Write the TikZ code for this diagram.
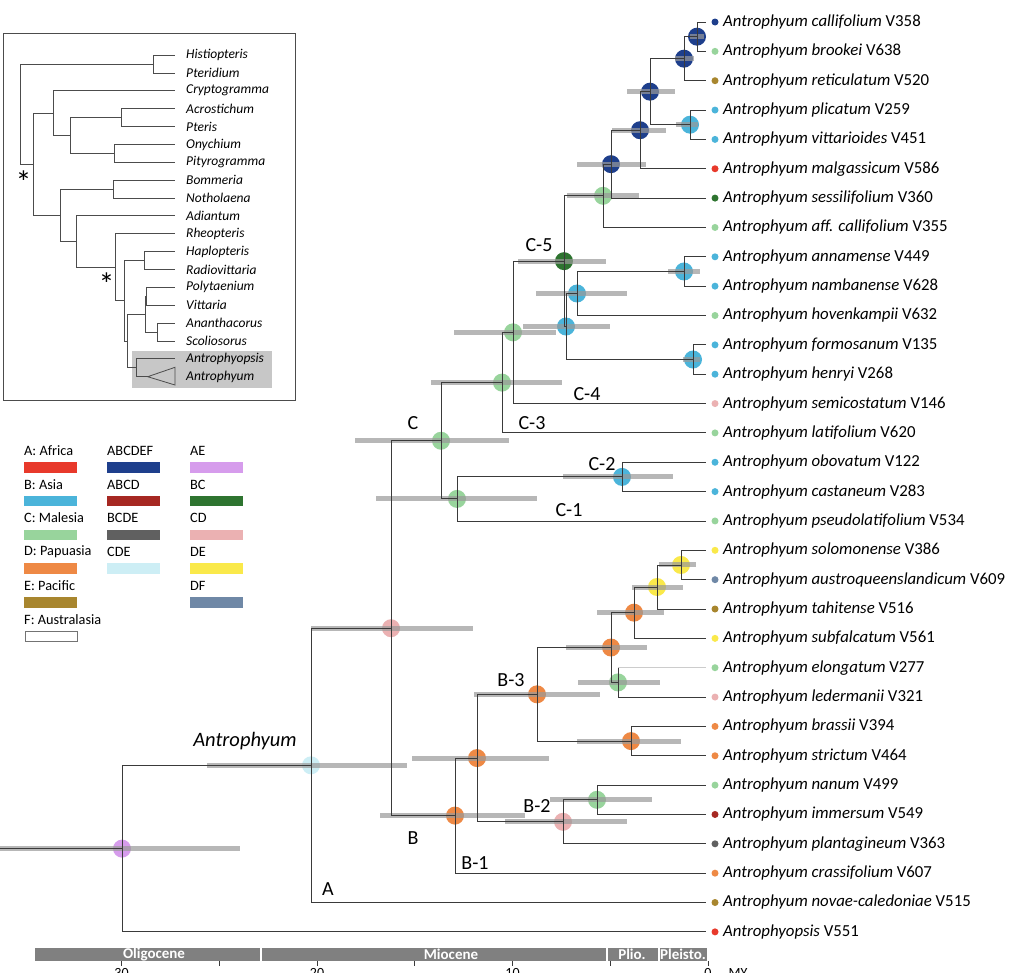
\documentclass[tikz,border=0pt]{standalone}
\usepackage{fontspec}
\setmainfont{Carlito}
\definecolor{cA}{HTML}{E8392B}
\definecolor{cB}{HTML}{4BB4DA}
\definecolor{cC}{HTML}{98D49C}
\definecolor{cD}{HTML}{EE8945}
\definecolor{cE}{HTML}{A8862E}
\definecolor{cABCDEF}{HTML}{1E3F8C}
\definecolor{cABCD}{HTML}{A62822}
\definecolor{cBCDE}{HTML}{606060}
\definecolor{cCDE}{HTML}{CDEEF5}
\definecolor{cAE}{HTML}{D69CEC}
\definecolor{cBC}{HTML}{2E7430}
\definecolor{cCD}{HTML}{EBB1B2}
\definecolor{cDE}{HTML}{FAE94A}
\definecolor{cDF}{HTML}{6F88A6}
\definecolor{branchc}{HTML}{3A3A3A}
\definecolor{hpdc}{HTML}{999999}
\definecolor{barc}{HTML}{808080}
\tikzset{
  branch/.style={draw=branchc, line width=0.9pt},
  lightbranch/.style={draw=black!20, line width=0.9pt},
  hpd/.style={draw=hpdc, line width=5pt, opacity=0.7},
  anc/.style={circle, minimum size=18pt, inner sep=0pt, draw=none},
  tipdot/.style={circle, minimum size=7pt, inner sep=0pt, draw=none},
  tiplab/.style={anchor=west, font=\fontsize{16.8}{18}\selectfont, inner sep=0pt},
  clab/.style={font=\fontsize{20}{22}\selectfont, inner sep=0pt},
  leglab/.style={anchor=west, font=\fontsize{14.3}{16}\selectfont, inner sep=0pt},
  swatch/.style={minimum width=53pt, minimum height=10.5pt, inner sep=0pt, anchor=north west, draw=none},
  ibranch/.style={draw=black!70, line width=0.8pt},
  ilab/.style={anchor=west, font=\fontsize{13.5}{15}\selectfont\itshape, inner sep=0pt},
  eralab/.style={font=\fontsize{15}{16}\selectfont\bfseries, text=white, inner sep=0pt},
  ticklab/.style={anchor=north, font=\fontsize{14}{16}\selectfont, inner sep=0pt},
  astlab/.style={font=\fontsize{32}{34}\selectfont, inner sep=0pt}
}
\newcommand\tiptaxon[5]{%
  \coordinate (#1) at (706,#2);
  \node[tipdot,fill=#3] (#1d) at (715,#2) {};
  \node[tiplab] (#1l) at (723,#2) {\textit{#4} #5};}
\newcommand\edge[2]{\draw[branch] (#1) |- (#2);}
\newcommand\ancnode[2]{\node[anc,fill=#2] (#1c) at (#1) {};}
\newcommand\itip[3]{%
  \coordinate (#1) at (175,#2);
  \node[ilab] (#1l) at (186,#2) {#3};}
\newcommand\iedge[2]{\draw[ibranch] (#1) |- (#2);}
\begin{document}
\begin{tikzpicture}[x=1pt,y=-1pt]
\useasboundingbox (0,0) rectangle (1032,972);
\fill[white] (0,0) rectangle (1032,972);

% ---------- tips ----------
\tiptaxon{t0}{22}{cABCDEF}{Antrophyum callifolium}{V358}
\tiptaxon{t1}{51.35}{cC}{Antrophyum brookei}{V638}
\tiptaxon{t2}{80.7}{cE}{Antrophyum reticulatum}{V520}
\tiptaxon{t3}{110.05}{cB}{Antrophyum plicatum}{V259}
\tiptaxon{t4}{139.4}{cB}{Antrophyum vittarioides}{V451}
\tiptaxon{t5}{168.75}{cA}{Antrophyum malgassicum}{V586}
\tiptaxon{t6}{198.1}{cBC}{Antrophyum sessilifolium}{V360}
\tiptaxon{t7}{227.45}{cC}{Antrophyum aff. callifolium}{V355}
\tiptaxon{t8}{256.8}{cB}{Antrophyum annamense}{V449}
\tiptaxon{t9}{286.15}{cB}{Antrophyum nambanense}{V628}
\tiptaxon{t10}{315.5}{cC}{Antrophyum hovenkampii}{V632}
\tiptaxon{t11}{344.85}{cB}{Antrophyum formosanum}{V135}
\tiptaxon{t12}{374.2}{cB}{Antrophyum henryi}{V268}
\tiptaxon{t13}{403.55}{cCD}{Antrophyum semicostatum}{V146}
\tiptaxon{t14}{432.9}{cC}{Antrophyum latifolium}{V620}
\tiptaxon{t15}{462.25}{cB}{Antrophyum obovatum}{V122}
\tiptaxon{t16}{491.6}{cB}{Antrophyum castaneum}{V283}
\tiptaxon{t17}{520.95}{cC}{Antrophyum pseudolatifolium}{V534}
\tiptaxon{t18}{550.3}{cDE}{Antrophyum solomonense}{V386}
\tiptaxon{t19}{579.65}{cDF}{Antrophyum austroqueenslandicum}{V609}
\tiptaxon{t20}{609}{cE}{Antrophyum tahitense}{V516}
\tiptaxon{t21}{638.35}{cDE}{Antrophyum subfalcatum}{V561}
\tiptaxon{t22}{667.7}{cC}{Antrophyum elongatum}{V277}
\tiptaxon{t23}{697.05}{cCD}{Antrophyum ledermanii}{V321}
\tiptaxon{t24}{726.4}{cD}{Antrophyum brassii}{V394}
\tiptaxon{t25}{755.75}{cD}{Antrophyum strictum}{V464}
\tiptaxon{t26}{785.1}{cC}{Antrophyum nanum}{V499}
\tiptaxon{t27}{814.45}{cABCD}{Antrophyum immersum}{V549}
\tiptaxon{t28}{843.8}{cBCDE}{Antrophyum plantagineum}{V363}
\tiptaxon{t29}{873.15}{cD}{Antrophyum crassifolium}{V607}
\tiptaxon{t30}{902.5}{cE}{Antrophyum novae-caledoniae}{V515}
\tiptaxon{t31}{931.85}{cA}{Antrophyopsis}{V551}

% ---------- internal nodes ----------
\coordinate (n01) at (697,36.68);
\coordinate (n012) at (684,58.69);
\coordinate (n34) at (690,124.7);
\coordinate (n04) at (650,91.69);
\coordinate (n05) at (640,130.22);
\coordinate (n06) at (611,164.16);
\coordinate (n07) at (603,195.8);
\coordinate (nAN) at (684,271.48);
\coordinate (nHV) at (577,293.49);
\coordinate (nFH) at (693,359.53);
\coordinate (nAS) at (566,326.5);
\coordinate (C5) at (564,261.15);
\coordinate (C4) at (513,332.35);
\coordinate (C3) at (502,382.6);
\coordinate (C2) at (622,476.9);
\coordinate (C1) at (457,498.9);
\coordinate (Cn) at (441,440.75);
\coordinate (nSA) at (681,564.98);
\coordinate (nSAT) at (657,586.99);
\coordinate (nSATS) at (634,612.67);
\coordinate (nEL) at (618,682.4);
\coordinate (nB3a) at (611,647.5);
\coordinate (nBS) at (631,741.1);
\coordinate (B3) at (537,694.3);
\coordinate (nNI) at (597,799.8);
\coordinate (B2) at (563,821.8);
\coordinate (nB23) at (477,758.05);
\coordinate (Bn) at (455,815.6);
\coordinate (BC) at (391,628.2);
\coordinate (crown) at (311,765.3);
\coordinate (root) at (122,848.6);
\coordinate (rootstem) at (0,848.6);

% ---------- ancestral state circles ----------
\ancnode{n01}{cABCDEF}
\ancnode{n012}{cABCDEF}
\ancnode{n34}{cB}
\ancnode{n04}{cABCDEF}
\ancnode{n05}{cABCDEF}
\ancnode{n06}{cABCDEF}
\ancnode{n07}{cC}
\ancnode{nAN}{cB}
\ancnode{nHV}{cB}
\ancnode{nFH}{cB}
\ancnode{nAS}{cB}
\ancnode{C5}{cBC}
\ancnode{C4}{cC}
\ancnode{C3}{cC}
\ancnode{C2}{cB}
\ancnode{C1}{cC}
\ancnode{Cn}{cC}
\ancnode{nSA}{cDE}
\ancnode{nSAT}{cDE}
\ancnode{nSATS}{cD}
\ancnode{nEL}{cC}
\ancnode{nB3a}{cD}
\ancnode{nBS}{cD}
\ancnode{B3}{cD}
\ancnode{nNI}{cC}
\ancnode{B2}{cCD}
\ancnode{nB23}{cD}
\ancnode{Bn}{cD}
\ancnode{BC}{cCD}
\ancnode{crown}{cCDE}
\ancnode{root}{cAE}

% ---------- HPD bars ----------
\draw[hpd] (0,848.6) -- (240,848.6);
\draw[hpd] (207,765.3) -- (407,765.3);
\draw[hpd] (311,628.2) -- (473,628.2);
\draw[hpd] (355,440.75) -- (509,440.75);
\draw[hpd] (376,498.9) -- (537,498.9);
\draw[hpd] (431,382.6) -- (562,382.6);
\draw[hpd] (454,332.35) -- (556,332.35);
\draw[hpd] (523,326.5) -- (610,326.5);
\draw[hpd] (536,293.49) -- (627,293.49);
\draw[hpd] (518,261.15) -- (606,261.15);
\draw[hpd] (567,195.8) -- (639,195.8);
\draw[hpd] (577,164.16) -- (646,164.16);
\draw[hpd] (612,130.22) -- (666,130.22);
\draw[hpd] (627,91.69) -- (675,91.69);
\draw[hpd] (675,58.69) -- (694,58.69);
\draw[hpd] (690,36.68) -- (704,36.68);
\draw[hpd] (676,124.7) -- (698,124.7);
\draw[hpd] (668,271.48) -- (700,271.48);
\draw[hpd] (683,359.53) -- (700,359.53);
\draw[hpd] (563,476.9) -- (673,476.9);
\draw[hpd] (380,815.6) -- (525,815.6);
\draw[hpd] (412,758.05) -- (549,758.05);
\draw[hpd] (474,694.3) -- (600,694.3);
\draw[hpd] (566,647.5) -- (647,647.5);
\draw[hpd] (597,612.67) -- (664,612.67);
\draw[hpd] (632,586.99) -- (683,586.99);
\draw[hpd] (659,564.98) -- (696,564.98);
\draw[hpd] (578,682.4) -- (660,682.4);
\draw[hpd] (577,741.1) -- (681,741.1);
\draw[hpd] (505,821.8) -- (627,821.8);
\draw[hpd] (550,799.8) -- (652,799.8);

% ---------- branches ----------
\draw[branch] (rootstem) -- (root);
\edge{n01}{t0}\edge{n01}{t1}
\edge{n012}{n01}\edge{n012}{t2}
\edge{n34}{t3}\edge{n34}{t4}
\edge{n04}{n012}\edge{n04}{n34}
\edge{n05}{n04}\edge{n05}{t5}
\edge{n06}{n05}\edge{n06}{t6}
\edge{n07}{n06}\edge{n07}{t7}
\edge{nAN}{t8}\edge{nAN}{t9}
\edge{nHV}{nAN}\edge{nHV}{t10}
\edge{nFH}{t11}\edge{nFH}{t12}
\edge{nAS}{nHV}\edge{nAS}{nFH}
\edge{C5}{n07}\edge{C5}{nAS}
\edge{C4}{C5}\edge{C4}{t13}
\edge{C3}{C4}\edge{C3}{t14}
\edge{C2}{t15}\edge{C2}{t16}
\edge{C1}{C2}\edge{C1}{t17}
\edge{Cn}{C3}\edge{Cn}{C1}
\edge{nSA}{t18}\edge{nSA}{t19}
\edge{nSAT}{nSA}\edge{nSAT}{t20}
\edge{nSATS}{nSAT}\edge{nSATS}{t21}
\draw[branch] (nEL) -- (nEL |- t22);
\draw[lightbranch] (nEL |- t22) -- (t22);
\edge{nEL}{t23}
\edge{nB3a}{nSATS}\edge{nB3a}{nEL}
\edge{nBS}{t24}\edge{nBS}{t25}
\edge{B3}{nB3a}\edge{B3}{nBS}
\edge{nNI}{t26}\edge{nNI}{t27}
\edge{B2}{nNI}\edge{B2}{t28}
\edge{nB23}{B3}\edge{nB23}{B2}
\edge{Bn}{nB23}\edge{Bn}{t29}
\edge{BC}{Cn}\edge{BC}{Bn}
\edge{crown}{BC}\edge{crown}{t30}
\edge{root}{crown}\edge{root}{t31}

% ---------- clade labels ----------
\node[clab,font=\fontsize{20.5}{22}\selectfont\itshape] (lAnt) at (245,741) {Antrophyum};
\node[clab] (lA) at (328,889) {A};
\node[clab] (lB) at (413,838) {B};
\node[clab] (lB1) at (475,863) {B-1};
\node[clab] (lB2) at (537,806) {B-2};
\node[clab] (lB3) at (511,680) {B-3};
\node[clab] (lC) at (413,423) {C};
\node[clab] (lC1) at (569,510) {C-1};
\node[clab] (lC2) at (602,464) {C-2};
\node[clab] (lC3) at (532,423) {C-3};
\node[clab] (lC4) at (587,394) {C-4};
\node[clab] (lC5) at (539,245) {C-5};

% ---------- time scale ----------
\fill[barc] (35,948) rectangle (707,961);
\foreach \sx in {261,607,659} \draw[white,line width=1.2pt] (\sx,948) -- (\sx,961);
\node[eralab] (eOl) at (154,954.5) {Oligocene};
\node[eralab] (eMi) at (451,954.5) {Miocene};
\node[eralab] (ePl) at (632,954.5) {Plio.};
\node[eralab] (ePs) at (683,954.5) {Pleisto.};
\foreach \t in {0,5,...,30} \draw[branchc,line width=0.8pt] ({708-19.55*\t},961) -- ({708-19.55*\t},966);
\node[ticklab] (k30) at (121.5,968) {30};
\node[ticklab] (k20) at (317,968) {20};
\node[ticklab] (k10) at (512.5,968) {10};
\node[ticklab] (k0) at (708,968) {0};
\node[ticklab] (kMY) at (738,968) {MY};

% ---------- legend ----------
\node[leglab] (gA) at (24,451) {A: Africa};
\node[swatch,fill=cA] (sA) at (24,462) {};
\node[leglab] (gB) at (24,484.5) {B: Asia};
\node[swatch,fill=cB] (sB) at (24,495.5) {};
\node[leglab] (gC) at (24,518) {C: Malesia};
\node[swatch,fill=cC] (sC) at (24,529.5) {};
\node[leglab] (gD) at (24,552) {D: Papuasia};
\node[swatch,fill=cD] (sD) at (24,563) {};
\node[leglab] (gE) at (24,585.5) {E: Pacific};
\node[swatch,fill=cE] (sE) at (24,597) {};
\node[leglab] (gF) at (24,619.5) {F: Australasia};
\node[swatch,fill=white,draw=black!55,line width=0.7pt,minimum width=52pt,minimum height=10pt] (sF) at (24.5,630.5) {};
\node[leglab] (gABCDEF) at (107,451) {ABCDEF};
\node[swatch,fill=cABCDEF] (sABCDEF) at (107,462) {};
\node[leglab] (gABCD) at (107,484.5) {ABCD};
\node[swatch,fill=cABCD] (sABCD) at (107,495.5) {};
\node[leglab] (gBCDE) at (107,518) {BCDE};
\node[swatch,fill=cBCDE] (sBCDE) at (107,529.5) {};
\node[leglab] (gCDE) at (107,552) {CDE};
\node[swatch,fill=cCDE] (sCDE) at (107,563) {};
\node[leglab] (gAE) at (190,451) {AE};
\node[swatch,fill=cAE] (sAE) at (190,462) {};
\node[leglab] (gBCl) at (190,484.5) {BC};
\node[swatch,fill=cBC] (sBC) at (190,495.5) {};
\node[leglab] (gCD) at (190,518) {CD};
\node[swatch,fill=cCD] (sCD) at (190,529.5) {};
\node[leglab] (gDE) at (190,552) {DE};
\node[swatch,fill=cDE] (sDE) at (190,563) {};
\node[leglab] (gDF) at (190,585.5) {DF};
\node[swatch,fill=cDF] (sDF) at (190,597) {};

% ---------- inset ----------
\draw[black!70,line width=0.9pt] (3,33) rectangle (295,400);
\fill[black!22] (132.3,350.7) rectangle (271.7,388.3);
\itip{i0}{55.0}{Histiopteris}
\itip{i1}{72.9}{Pteridium}
\itip{i2}{90.7}{Cryptogramma}
\itip{i3}{108.6}{Acrostichum}
\itip{i4}{126.5}{Pteris}
\itip{i5}{144.4}{Onychium}
\itip{i6}{162.2}{Pityrogramma}
\itip{i7}{180.1}{Bommeria}
\itip{i8}{198.0}{Notholaena}
\itip{i9}{215.8}{Adiantum}
\itip{i10}{233.7}{Rheopteris}
\itip{i11}{251.6}{Haplopteris}
\itip{i12}{269.4}{Radiovittaria}
\itip{i13}{287.3}{Polytaenium}
\itip{i14}{305.2}{Vittaria}
\itip{i15}{323.1}{Ananthacorus}
\itip{i16}{340.9}{Scoliosorus}
\itip{i17}{358.8}{Antrophyopsis}
\node[ilab] (i18l) at (186,376.7) {Antrophyum};
\coordinate (iHP) at (153.7,63.95);
\coordinate (iAP) at (121.7,117.55);
\coordinate (iOP) at (114.3,153.3);
\coordinate (iAPOP) at (70.7,135.4);
\coordinate (iCr) at (53.3,113.05);
\coordinate (iBN) at (113.3,189.05);
\coordinate (iHR) at (144.3,260.5);
\coordinate (iPV) at (146.7,296.25);
\coordinate (iAS) at (157.3,332.0);
\coordinate (iPVAS) at (145,314.1);
\coordinate (iAA) at (136,367.75);
\coordinate (iV2) at (127.7,340.9);
\coordinate (iV1) at (124,300.7);
\coordinate (iRh) at (115.7,267.2);
\coordinate (iAd) at (76,241.5);
\coordinate (iBo) at (60,215.3);
\coordinate (iMid) at (33.3,164.2);
\coordinate (iRoot) at (20.7,114.1);
\coordinate (iApex) at (147.7,376.7);
\coordinate (iTriT) at (175,367.3);
\coordinate (iTriB) at (175,385);
\iedge{iHP}{i0}\iedge{iHP}{i1}
\iedge{iAP}{i3}\iedge{iAP}{i4}
\iedge{iOP}{i5}\iedge{iOP}{i6}
\iedge{iAPOP}{iAP}\iedge{iAPOP}{iOP}
\iedge{iCr}{i2}\iedge{iCr}{iAPOP}
\iedge{iBN}{i7}\iedge{iBN}{i8}
\iedge{iHR}{i11}\iedge{iHR}{i12}
\iedge{iPV}{i13}\iedge{iPV}{i14}
\iedge{iAS}{i15}\iedge{iAS}{i16}
\iedge{iPVAS}{iPV}\iedge{iPVAS}{iAS}
\iedge{iAA}{i17}\iedge{iAA}{iApex}
\iedge{iV2}{iPVAS}\iedge{iV2}{iAA}
\iedge{iV1}{iHR}\iedge{iV1}{iV2}
\iedge{iRh}{i10}\iedge{iRh}{iV1}
\iedge{iAd}{i9}\iedge{iAd}{iRh}
\iedge{iBo}{iBN}\iedge{iBo}{iAd}
\iedge{iMid}{iCr}\iedge{iMid}{iBo}
\iedge{iRoot}{iHP}\iedge{iRoot}{iMid}
\draw[ibranch] (iApex) -- (iTriT) -- (iTriB) -- cycle;
\node[astlab] (ast1) at (23.5,182) {*};
\node[astlab] (ast2) at (106.7,284.5) {*};
\end{tikzpicture}
\end{document}
